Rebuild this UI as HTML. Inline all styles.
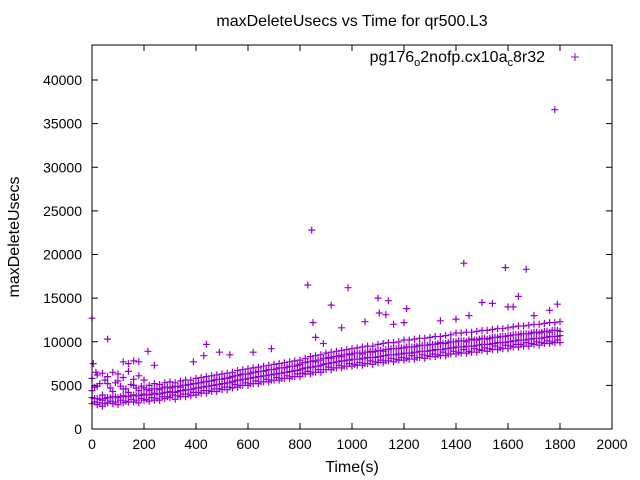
<!DOCTYPE html>
<html><head><meta charset="utf-8"><style>
body{margin:0;background:#fff}
svg{display:block;font-family:"Liberation Sans",sans-serif}
</style></head><body>
<svg id="chart" width="640" height="480">
<rect x="0" y="0" width="640" height="480" fill="#fff"/>
<text x="352" y="26" font-size="16" text-anchor="middle">maxDeleteUsecs vs Time for qr500.L3</text>
<text x="352" y="472" font-size="16" text-anchor="middle">Time(s)</text>
<text transform="translate(19,237) rotate(-90)" font-size="16" text-anchor="middle">maxDeleteUsecs</text>
<g id="axes"></g>
<g id="pts"></g>
<g>
<text x="545" y="62" font-size="16" text-anchor="end">pg176<tspan font-size="11" dy="4">o</tspan><tspan dy="-4">2nofp.cx10a</tspan><tspan font-size="11" dy="4">c</tspan><tspan dy="-4">8r32</tspan></text>
<path d="M571,57h8M575,53v8" stroke="#9400d3" stroke-width="1"/>
</g>
<rect x="92" y="45" width="520" height="384" fill="none" stroke="#000" stroke-width="1"/>
</svg>
<script>
const xTicks=[0,200,400,600,800,1000,1200,1400,1600,1800,2000];
const yTicks=[0,5000,10000,15000,20000,25000,30000,35000,40000];
const tA=[0,20,40,60,80,100,120,140,160,180,200,220,240,260,280,300,320,340,360,380,400,420,440,460,480,500,520,540,560,580,600,620,640,660,680,700,720,740,760,780,800,820,840,860,880,900,920,940,960,980,1000,1020,1040,1060,1080,1100,1120,1140,1160,1180,1200,1220,1240,1260,1280,1300,1320,1340,1360,1380,1400,1420,1440,1460,1480,1500,1520,1540,1560,1580,1600,1620,1640,1660,1680,1700,1720,1740,1760,1780,1800];
const loA=[2900,2800,2600,3000,2900,2800,3000,3100,3100,3000,3300,3200,3300,3300,3500,3600,3400,3700,3700,3800,3900,4100,4100,4300,4300,4500,4500,4700,4800,5000,5000,5200,5200,5400,5400,5600,5600,5800,5800,6000,6000,6300,6300,6500,6500,6800,6800,7000,7000,7200,7200,7300,7300,7500,7400,7600,7600,7800,7700,7900,7900,8000,8000,8200,8100,8300,8300,8400,8400,8600,8600,8700,8700,8800,8800,9000,8900,9100,9100,9200,9200,9400,9400,9500,9500,9700,9600,9800,9800,9900,9900];
const midA=[3600,3500,3300,3600,3700,3600,3800,3700,3900,3800,4000,3900,4100,4000,4200,4300,4200,4400,4500,4500,4700,4800,4900,5000,5100,5200,5300,5400,5600,5700,5800,5900,6000,6100,6200,6300,6400,6500,6600,6700,6800,7000,7100,7200,7300,7500,7600,7700,7800,7900,8000,8000,8100,8200,8200,8300,8400,8500,8500,8600,8700,8700,8800,8900,8900,9000,9100,9100,9200,9300,9400,9400,9500,9500,9600,9700,9700,9800,9900,9900,10000,10100,10200,10200,10300,10400,10400,10500,10600,10600,10700];
const hiA=[5800,6200,6400,6000,6500,6300,5900,6600,5700,6100,5600,5000,5200,5100,5300,5400,5300,5500,5600,5600,5800,5900,6000,6100,6200,6300,6400,6500,6700,6800,6900,7000,7100,7200,7300,7400,7500,7600,7700,7800,7900,8100,8300,8400,8500,8700,8800,8900,9000,9100,9200,9300,9400,9500,9500,9700,9800,9900,9900,10000,10200,10200,10300,10400,10400,10500,10600,10600,10700,10800,11000,11000,11100,11100,11200,11300,11300,11400,11500,11500,11600,11700,11800,11800,11900,12000,12000,12100,12200,12200,12300];
const jitA=[4400,4900,3900,5200,4300,5500,4600,4200,5000,4400,4700,4400,4600,4500,4800,4700,4900,4800,5000,5100,5200,5300,5400,5500,5700,5700,5800,6000,6100,6300,6300,6500,6600,6600,6800,6800,7000,7000,7200,7200,7400,7600,7700,7700,7900,8100,8100,8300,8300,8500,8500,8700,8600,8800,8800,9000,8900,9100,9200,9200,9300,9400,9400,9600,9600,9700,9700,9900,9800,10000,10000,10100,10000,10300,10200,10400,10300,10500,10500,10600,10700,10800,10800,10900,10900,11100,11000,11200,11100,11300,11200];
const tB=[10,30,50,70,90,110,130,150,170,190,210,230,250,270,290,310,330,350,370,390,410,430,450,470,490,510,530,550,570,590,610,630,650,670,690,710,730,750,770,790,810,830,850,870,890,910,930,950,970,990,1010,1030,1050,1070,1090,1110,1130,1150,1170,1190,1210,1230,1250,1270,1290,1310,1330,1350,1370,1390,1410,1430,1450,1470,1490,1510,1530,1550,1570,1590,1610,1630,1650,1670,1690,1710,1730,1750,1770,1790];
const midB=[3500,3400,3500,3600,3700,3700,3700,3800,3800,3900,3900,4000,4000,4100,4200,4200,4300,4400,4500,4600,4700,4800,4900,5000,5100,5200,5300,5500,5600,5700,5800,5900,6000,6100,6200,6300,6400,6500,6600,6700,6900,7000,7100,7200,7400,7500,7600,7700,7800,7900,8000,8000,8100,8200,8200,8300,8400,8500,8500,8600,8700,8700,8800,8900,8900,9000,9100,9100,9200,9300,9400,9400,9500,9500,9600,9700,9700,9800,9900,9900,10000,10100,10200,10200,10300,10400,10400,10500,10600,10600];
const hiB=[4800,5200,5600,4700,5300,4900,4600,5100,4700,4900,4500,4600,4600,4700,4800,4800,4900,5000,5100,5200,5300,5400,5500,5600,5700,5800,5900,6100,6200,6300,6400,6500,6600,6700,6800,6900,7000,7100,7200,7300,7600,7700,7800,7900,8100,8200,8300,8400,8500,8600,8700,8700,8800,8900,8900,9000,9100,9200,9200,9300,9400,9400,9500,9600,9600,9700,9800,9800,9900,10000,10100,10100,10200,10200,10300,10400,10400,10500,10600,10600,10700,10800,10900,10900,11000,11100,11100,11200,11300,11300];
const loB=[3100,3000,2900,3200,3100,3300,3200,3400,3300,3500,3400,3600,3500,3700,3700,3900,3800,4000,4000,4200,4200,4400,4400,4600,4600,4800,4800,5100,5000,5300,5200,5500,5400,5700,5600,5900,5800,6100,6000,6300,6400,6600,6500,6800,6800,7100,7000,7300,7200,7500,7400,7600,7500,7800,7700,7900,7800,8100,8000,8200,8100,8400,8200,8500,8400,8600,8500,8800,8600,8900,8800,9100,8900,9200,9100,9300,9200,9500,9300,9600,9500,9700,9700,9900,9800,10000,9900,10100,10000,10200];
const outT=[0,5,15,60,120,140,160,180,215,240,390,440,430,490,530,620,690,830,845,850,860,890,920,960,985,1050,1100,1105,1130,1140,1160,1200,1210,1340,1400,1430,1450,1500,1540,1590,1600,1620,1640,1670,1700,1760,1780,1790];
const outV=[12700,7500,6500,10300,7700,7500,7800,7700,8900,7300,7700,9700,8400,8800,8500,8800,9200,16500,22800,12200,10500,9800,14200,11600,16200,12300,15000,13300,13100,14700,12000,12200,13800,12400,12600,19000,13000,14500,14400,18500,14000,14000,15200,18300,13000,13600,36600,14300];
const NS="http://www.w3.org/2000/svg";
const X=v=>92+v*520/2000;
const Y=v=>429-v*349/40000;
const axes=document.getElementById('axes');
xTicks.forEach(t=>{
 const l=document.createElementNS(NS,'path');
 l.setAttribute('d',`M${X(t)},429v-6M${X(t)},45v6`);l.setAttribute('stroke','#000');
 
 
 axes.appendChild(l);
 const s=document.createElementNS(NS,'text');
 s.setAttribute('x',X(t));s.setAttribute('y',449);s.setAttribute('font-size','14');s.setAttribute('text-anchor','middle');
 s.textContent=t;
 
 
 axes.appendChild(s);
});
yTicks.forEach(t=>{
 const l=document.createElementNS(NS,'path');
 l.setAttribute('d',`M92,${Y(t)}h6M612,${Y(t)}h-6`);l.setAttribute('stroke','#000');
 
 
 axes.appendChild(l);
 const s=document.createElementNS(NS,'text');
 s.setAttribute('x',82);s.setAttribute('y',Y(t)+5);s.setAttribute('font-size','14');s.setAttribute('text-anchor','end');
 s.textContent=t;
 
 
 axes.appendChild(s);
});
const pts=document.getElementById('pts');
let d='';
function add(ts,vs){const n=Math.min(ts.length,vs.length);for(let i=0;i<n;i++){const x=X(ts[i]),y=Y(vs[i]);d+=`M${(x-3.5).toFixed(1)},${y.toFixed(1)}h7M${x.toFixed(1)},${(y-3.5).toFixed(1)}v7`;}}
add(tA,loA);add(tA,midA);add(tA,hiA);add(tA,jitA);add(tB,midB);add(tB,hiB);add(tB,loB);add(outT,outV);
const p=document.createElementNS(NS,'path');
p.setAttribute('d',d);p.setAttribute('stroke','#9400d3');p.setAttribute('stroke-width','1.2');p.setAttribute('fill','none');


pts.appendChild(p);
</script>
</body></html>
